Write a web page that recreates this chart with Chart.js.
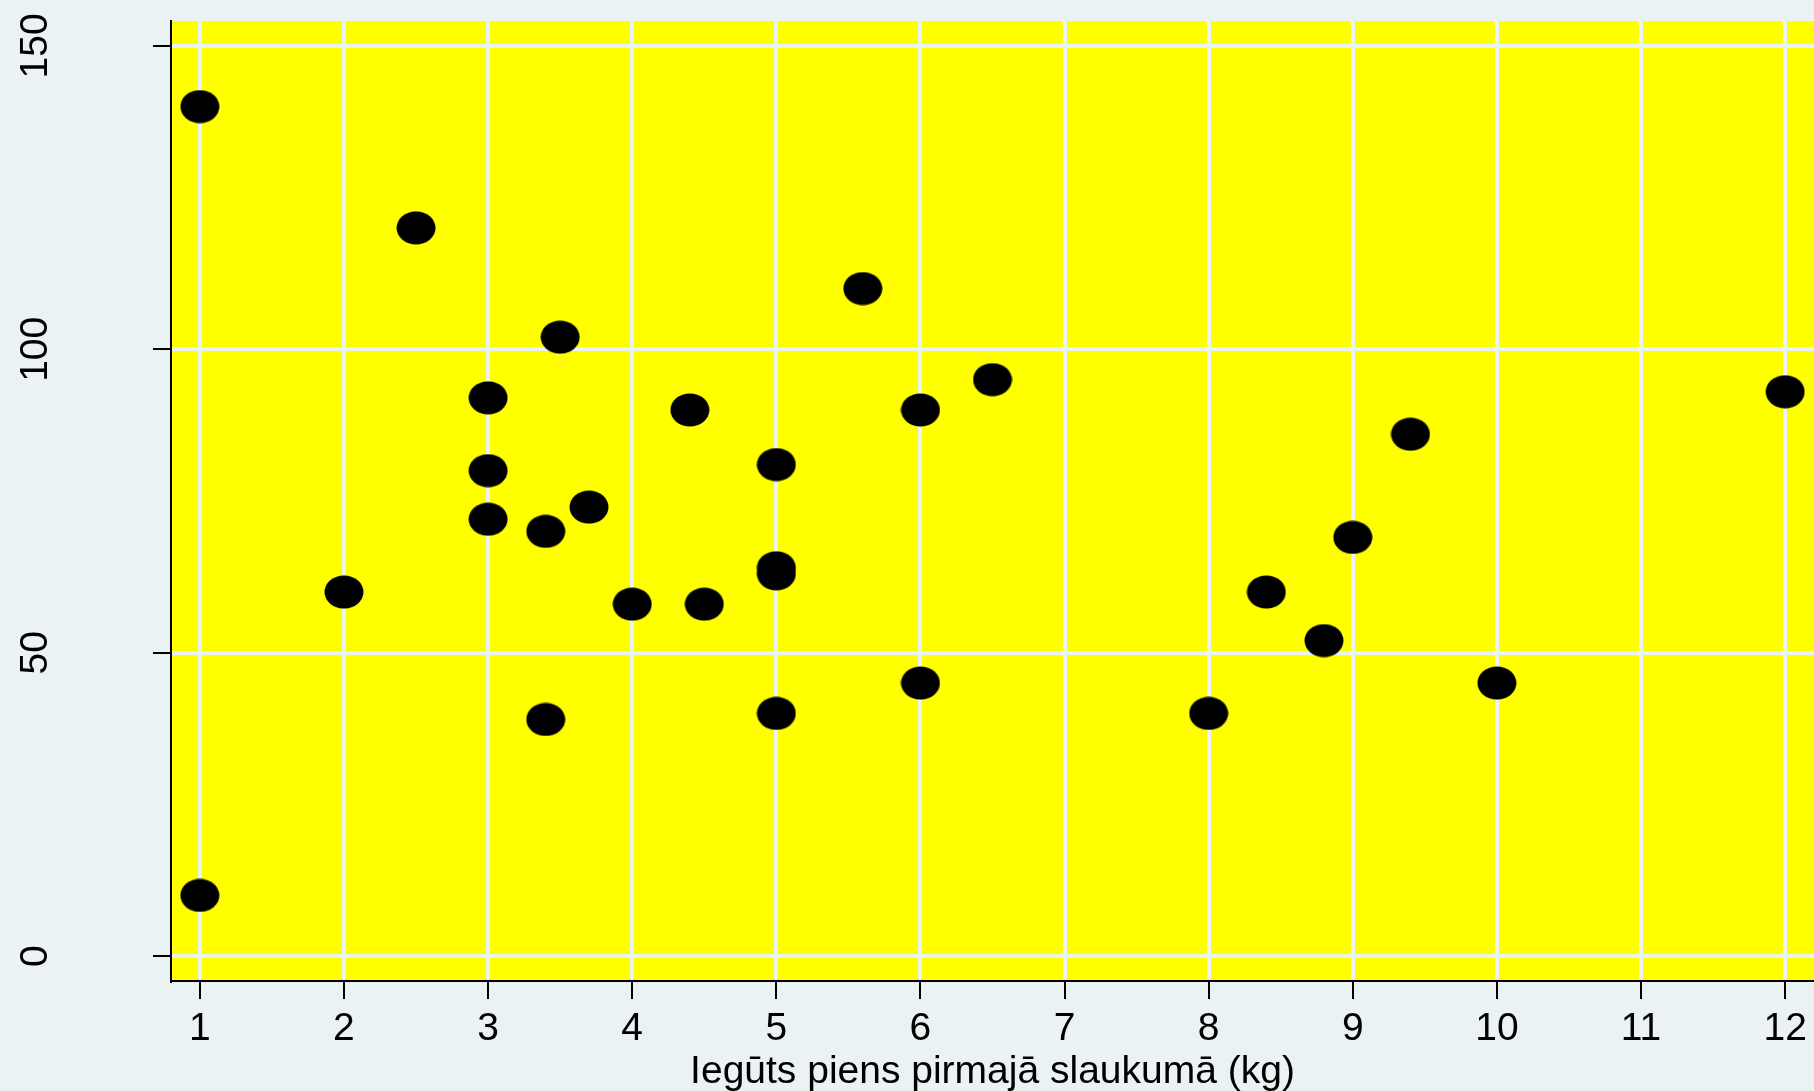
<!DOCTYPE html>
<html>
<head>
<meta charset="utf-8">
<script src="https://cdn.jsdelivr.net/npm/chart.js@4/dist/chart.umd.min.js"></script>
<style>
  html, body { margin: 0; padding: 0; background: #eaf2f3; }
  #wrap { width: 1814px; height: 1091px; position: relative; }
</style>
</head>
<body>
<div id="wrap"><canvas id="c" width="1814" height="1091"></canvas></div>
<script>
const xValues = [1, 1, 2.5, 2, 3, 3, 3, 3.4, 3.4, 3.5, 3.7, 4, 4.4, 4.5, 5, 5, 5, 5, 5.6, 6, 6, 6.5, 8, 8.4, 8.8, 9, 9.4, 10, 12];
const yValues = [140, 10, 120, 60, 92, 80, 72, 70, 39, 102, 74, 58, 90, 58, 81, 64, 63, 40, 110, 90, 45, 95, 40, 60, 52, 69, 86, 45, 93];
const xTicks = [1, 2, 3, 4, 5, 6, 7, 8, 9, 10, 11, 12];
const yTicks = [0, 50, 100, 150];
const xTitle = 'Iegūts piens pirmajā slaukumā (kg)';

const points = xValues.map((x, i) => ({ x: x, y: yValues[i] }));

// elliptical marker
const marker = document.createElement('canvas');
marker.width = 40; marker.height = 34;
(function () {
  const g = marker.getContext('2d');
  g.fillStyle = '#000';
  g.beginPath();
  g.ellipse(20, 17, 19.5, 16.5, 0, 0, Math.PI * 2);
  g.fill();
})();

const bgPlugin = {
  id: 'bg',
  beforeDraw(chart) {
    const { ctx, chartArea } = chart;
    ctx.save();
    ctx.fillStyle = '#eaf2f3';
    ctx.fillRect(0, 0, chart.width, chart.height);
    ctx.fillStyle = '#ffff00';
    ctx.fillRect(chartArea.left, chartArea.top, chartArea.right - chartArea.left, chartArea.bottom - chartArea.top);
    ctx.restore();
  }
};

const font = { family: '"Liberation Sans", Arial, sans-serif', size: 39 };

new Chart(document.getElementById('c'), {
  type: 'scatter',
  data: {
    datasets: [{
      data: points,
      pointStyle: marker,
      pointRadius: 20,
      pointHoverRadius: 20,
      backgroundColor: '#000',
      borderColor: '#000'
    }]
  },
  options: {
    responsive: false,
    animation: false,
    events: [],
    layout: { autoPadding: false, padding: { left: 0, top: 21, right: 0, bottom: 0 } },
    plugins: { legend: { display: false }, tooltip: { enabled: false } },
    scales: {
      x: {
        type: 'linear',
        min: 0.8,
        max: 12.2,
        afterBuildTicks(scale) { scale.ticks = xTicks.map(v => ({ value: v })); },
        afterFit(scale) { scale.height = 110; scale.paddingLeft = 0; scale.paddingRight = 0; },
        grid: { color: '#eaf2f3', lineWidth: 4, tickColor: '#000', tickLength: 18, tickWidth: 2 },
        border: { display: true, color: '#000', width: 2 },
        ticks: { font: font, color: '#000', padding: 7, maxRotation: 0, autoSkip: false },
        title: { display: true, text: xTitle, font: font, color: '#000', padding: { top: 0, bottom: -5 } }
      },
      y: {
        type: 'linear',
        min: -4.1,
        max: 154.1,
        afterBuildTicks(scale) { scale.ticks = yTicks.map(v => ({ value: v })); },
        afterFit(scale) { scale.width = 171; scale.paddingTop = 0; scale.paddingBottom = 0; },
        grid: { color: '#eaf2f3', lineWidth: 4, tickColor: '#000', tickLength: 18, tickWidth: 2 },
        border: { display: true, color: '#000', width: 2 },
        ticks: { font: font, color: '#000', padding: 84, minRotation: 90, maxRotation: 90, crossAlign: 'center', autoSkip: false }
      }
    }
  },
  plugins: [bgPlugin]
});
</script>
</body>
</html>
